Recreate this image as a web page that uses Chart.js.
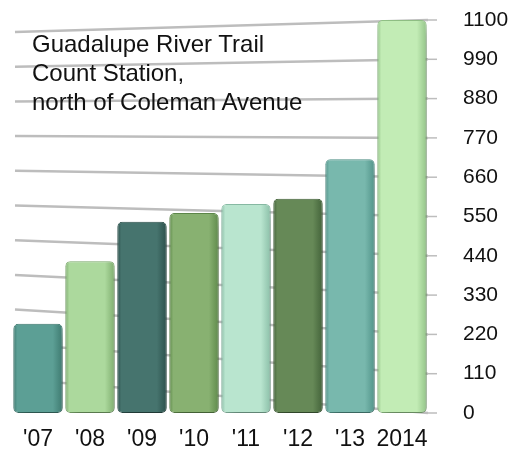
<!DOCTYPE html>
<html>
<head>
<meta charset="utf-8">
<script src="https://cdn.jsdelivr.net/npm/chart.js@4"></script>
<style>
  html, body { margin: 0; padding: 0; background: #fff; }
  #wrap { position: relative; width: 517px; height: 462px; }
  #note {
    position: absolute; left: 32px; top: 29px;
    font: 24px "Liberation Sans", Arial, sans-serif; line-height: 29px;
    color: #111; pointer-events: none;
  }
</style>
</head>
<body>
<div id="wrap">
  <canvas id="trailChart" width="517" height="462"></canvas>
  <div id="note">Guadalupe River Trail<br>Count Station,<br>north of Coleman Avenue</div>
</div>
<script>
// datos
const years = ["'07", "'08", "'09", "'10", "'11", "'12", "'13", "2014"];
const counts = [250, 425, 535, 560, 585, 600, 710, 1100];
const yTicks = [0, 110, 220, 330, 440, 550, 660, 770, 880, 990, 1100];
const barColors = ['#5c9f95', '#acd99d', '#46746e', '#88b171', '#b9e5cf', '#668957', '#78b8ad', '#c2ecb5'];
const edgeColors = ['#3e7a70', '#7fae6f', '#2c514c', '#5f8a4b', '#8bbfa8', '#43633a', '#52948a', '#93c488'];

// degradado horizontal para dar volumen a cada barra
function barFill(context) {
    const i = context.dataIndex;
    const chart = context.chart;
    const xs = chart.scales.x;
    if (!chart.chartArea || !xs) return barColors[i];
    const w = xs.width / years.length * 0.95;
    const cx = xs.getPixelForValue(i);
    const g = chart.ctx.createLinearGradient(cx - w / 2, 0, cx + w / 2, 0);
    g.addColorStop(0, edgeColors[i]);
    g.addColorStop(0.08, barColors[i]);
    g.addColorStop(0.8, barColors[i]);
    g.addColorStop(1, edgeColors[i]);
    return g;
}

// líneas de fondo inclinadas (efecto perspectiva) y sombra de barras
const perspectiveGrid = {
    id: 'perspectiveGrid',
    beforeDatasetsDraw(chart) {
        const { ctx, chartArea, scales } = chart;
        const y = scales.y;
        const top = y.getPixelForValue(1100), bottom = y.getPixelForValue(0);
        ctx.save();
        ctx.strokeStyle = '#bdbdbd';
        yTicks.forEach(v => {
            const yr = y.getPixelForValue(v);
            const t = (yr - top) / (bottom - top);
            const yl = yr + 12 * (1 - t) - 34 * t;
            ctx.lineWidth = 2.5;
            ctx.beginPath();
            ctx.moveTo(chartArea.left + 3, yl);
            ctx.lineTo(chartArea.right, yr);
            ctx.stroke();
            ctx.lineWidth = 1.5;
            ctx.beginPath();
            ctx.moveTo(chartArea.right, yr);
            ctx.lineTo(chartArea.right + 9, yr);
            ctx.stroke();
        });
        ctx.restore();
        ctx.save();
        ctx.shadowColor = 'rgba(0,0,0,0.35)';
        ctx.shadowBlur = 14;
        ctx.shadowOffsetX = 4;
        ctx.shadowOffsetY = 8;
    },
    afterDatasetsDraw(chart) {
        chart.ctx.restore();
    }
};

const ctx = document.getElementById('trailChart').getContext('2d');
new Chart(ctx, {
    type: 'bar',
    data: {
        labels: years,
        datasets: [{
            data: counts,
            backgroundColor: barFill,
            borderColor: edgeColors,
            borderWidth: 1,
            borderRadius: 5,
            borderSkipped: false,
            categoryPercentage: 1,
            barPercentage: 0.95
        }]
    },
    options: {
        responsive: false,
        animation: false,
        layout: { padding: { top: 20, right: 0, left: 12, bottom: 0 } },
        plugins: {
            legend: { display: false },
            tooltip: { enabled: false }
        },
        scales: {
            x: {
                grid: { display: false },
                border: { display: false },
                afterFit: axis => { axis.height = 49; },
                ticks: {
                    color: '#111',
                    padding: 5,
                    autoSkip: false,
                    maxRotation: 0,
                    font: { family: 'Liberation Sans', size: 23 }
                }
            },
            y: {
                position: 'right',
                min: 0,
                max: 1100,
                afterBuildTicks: axis => { axis.ticks = yTicks.map(v => ({ value: v })); },
                afterFit: axis => {
                    axis.width = 89;
                    axis.paddingTop = 0;
                    axis.paddingBottom = 0;
                },
                grid: { display: false },
                border: { display: false },
                ticks: {
                    color: '#111',
                    padding: 27,
                    font: { family: 'Liberation Sans', size: 21 },
                    callback: v => String(v)
                }
            }
        }
    },
    plugins: [perspectiveGrid]
});
</script>
</body>
</html>
